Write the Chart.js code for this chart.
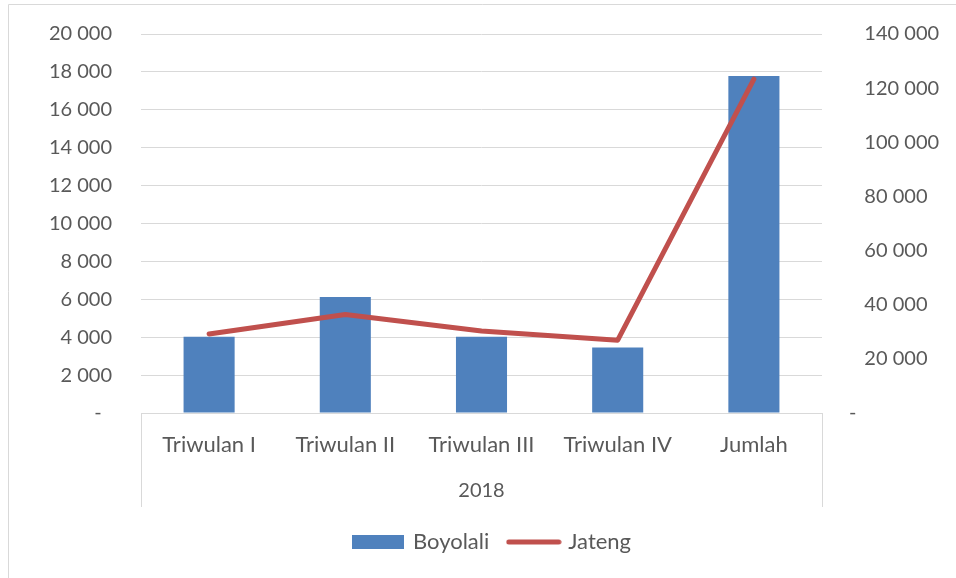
<!DOCTYPE html>
<html>
<head>
<meta charset="utf-8">
<script src="https://cdn.jsdelivr.net/npm/chart.js@4"></script>
<style>
  html, body { margin: 0; padding: 0; background: #fff; }
  #wrap { width: 956px; height: 578px; position: relative; }
</style>
</head>
<body>
<div id="wrap"><canvas id="chart"></canvas></div>
<script>
// data
const categories = ['Triwulan I', 'Triwulan II', 'Triwulan III', 'Triwulan IV', 'Jumlah'];
const groupLabel = '2018';
const boyolali = [4030, 6120, 4030, 3460, 17780];
const jateng = [29200, 36400, 30300, 26900, 123300];
const leftTicks = [0, 2000, 4000, 6000, 8000, 10000, 12000, 14000, 16000, 18000, 20000];
const rightTicks = [0, 20000, 40000, 60000, 80000, 100000, 120000, 140000];

const textColor = '#595959';
const gridColor = '#d9d9d9';
const barColor = '#4f81bd';
const lineColor = '#c0504d';
const tickFont = { family: 'Lato', size: 20 };
const labelFont = { family: 'Lato', size: 22 };

function fmt(v) {
    return String(v).replace(/\B(?=(\d{3})+(?!\d))/g, ' ');
}

// legend swatches drawn to small canvases
function swatch(w, h, draw) {
    const c = document.createElement('canvas');
    c.width = w;
    c.height = h;
    draw(c.getContext('2d'));
    return c;
}
const barSwatch = swatch(52, 14, g => { g.fillStyle = barColor; g.fillRect(0, 0, 52, 14); });
const lineSwatch = swatch(56, 8, g => {
    g.strokeStyle = lineColor;
    g.lineWidth = 5;
    g.lineCap = 'round';
    g.beginPath();
    g.moveTo(3, 4);
    g.lineTo(53, 4);
    g.stroke();
});

const axisBoxHeight = 94;

// outer frame + the box round the category labels
const framePlugin = {
    id: 'frame',
    afterDraw(chart) {
        const ctx = chart.ctx;
        const a = chart.chartArea;
        const yEnd = a.bottom + axisBoxHeight;
        ctx.save();
        ctx.strokeStyle = gridColor;
        ctx.lineWidth = 1;
        ctx.beginPath();
        ctx.moveTo(8.5, 578);
        ctx.lineTo(8.5, 4.5);
        ctx.lineTo(956, 4.5);
        ctx.moveTo(Math.round(a.left) + 0.5, a.bottom);
        ctx.lineTo(Math.round(a.left) + 0.5, yEnd);
        ctx.moveTo(Math.round(a.right) + 0.5, a.bottom);
        ctx.lineTo(Math.round(a.right) + 0.5, yEnd);
        ctx.stroke();
        ctx.restore();
    }
};

const legendHeight = {
    id: 'legendHeight',
    beforeInit(chart) {
        const orig = chart.legend.fit;
        chart.legend.fit = function () {
            orig.bind(chart.legend)();
            this.height = 68;
        };
    }
};

new Chart(document.getElementById('chart'), {
    data: {
        labels: categories,
        datasets: [
            {
                type: 'line',
                label: 'Jateng',
                data: jateng,
                yAxisID: 'y1',
                borderColor: lineColor,
                backgroundColor: lineColor,
                borderWidth: 5,
                borderCapStyle: 'round',
                borderJoinStyle: 'round',
                pointRadius: 0,
                pointStyle: lineSwatch,
                tension: 0,
                order: 1
            },
            {
                type: 'bar',
                label: 'Boyolali',
                data: boyolali,
                yAxisID: 'y',
                backgroundColor: barColor,
                pointStyle: barSwatch,
                categoryPercentage: 1,
                barPercentage: 0.375,
                order: 2
            }
        ]
    },
    options: {
        responsive: true,
        maintainAspectRatio: false,
        animation: false,
        layout: { padding: { top: 34, bottom: 0, left: 30, right: 0 } },
        plugins: {
            legend: {
                position: 'bottom',
                reverse: true,
                labels: {
                    usePointStyle: true,
                    pointStyleWidth: 47,
                    boxHeight: 14,
                    padding: 21,
                    color: textColor,
                    font: labelFont
                }
            },
            tooltip: { enabled: false }
        },
        scales: {
            x: {
                grid: { display: false },
                border: { display: true, color: gridColor },
                ticks: { color: textColor, font: labelFont, padding: 11, maxRotation: 0 },
                title: {
                    display: true,
                    text: groupLabel,
                    color: textColor,
                    font: tickFont,
                    padding: { top: 0, bottom: 7 }
                },
                afterFit(scale) { scale.height = axisBoxHeight + 3; }
            },
            y: {
                position: 'left',
                min: 0,
                max: 20000,
                afterBuildTicks(scale) { scale.ticks = leftTicks.map(v => ({ value: v })); },
                grid: { color: gridColor, drawTicks: false },
                border: { display: false },
                ticks: {
                    color: textColor,
                    font: tickFont,
                    padding: 29,
                    callback: v => v === 0 ? '-  ' : fmt(v)
                },
                afterFit(scale) {
                    scale.width = 111;
                    scale.paddingTop = 12;
                    scale.paddingBottom = 12;
                }
            },
            y1: {
                position: 'right',
                min: 0,
                max: 140000,
                afterBuildTicks(scale) { scale.ticks = rightTicks.map(v => ({ value: v })); },
                grid: { display: false, drawTicks: false },
                border: { display: false },
                ticks: {
                    color: textColor,
                    font: tickFont,
                    padding: 27,
                    crossAlign: 'near',
                    callback: v => v === 0 ? '-' : '   ' + fmt(v)
                },
                afterFit(scale) {
                    scale.width = 134;
                    scale.paddingTop = 12;
                    scale.paddingBottom = 12;
                }
            }
        }
    },
    plugins: [framePlugin, legendHeight]
});
</script>
</body>
</html>
